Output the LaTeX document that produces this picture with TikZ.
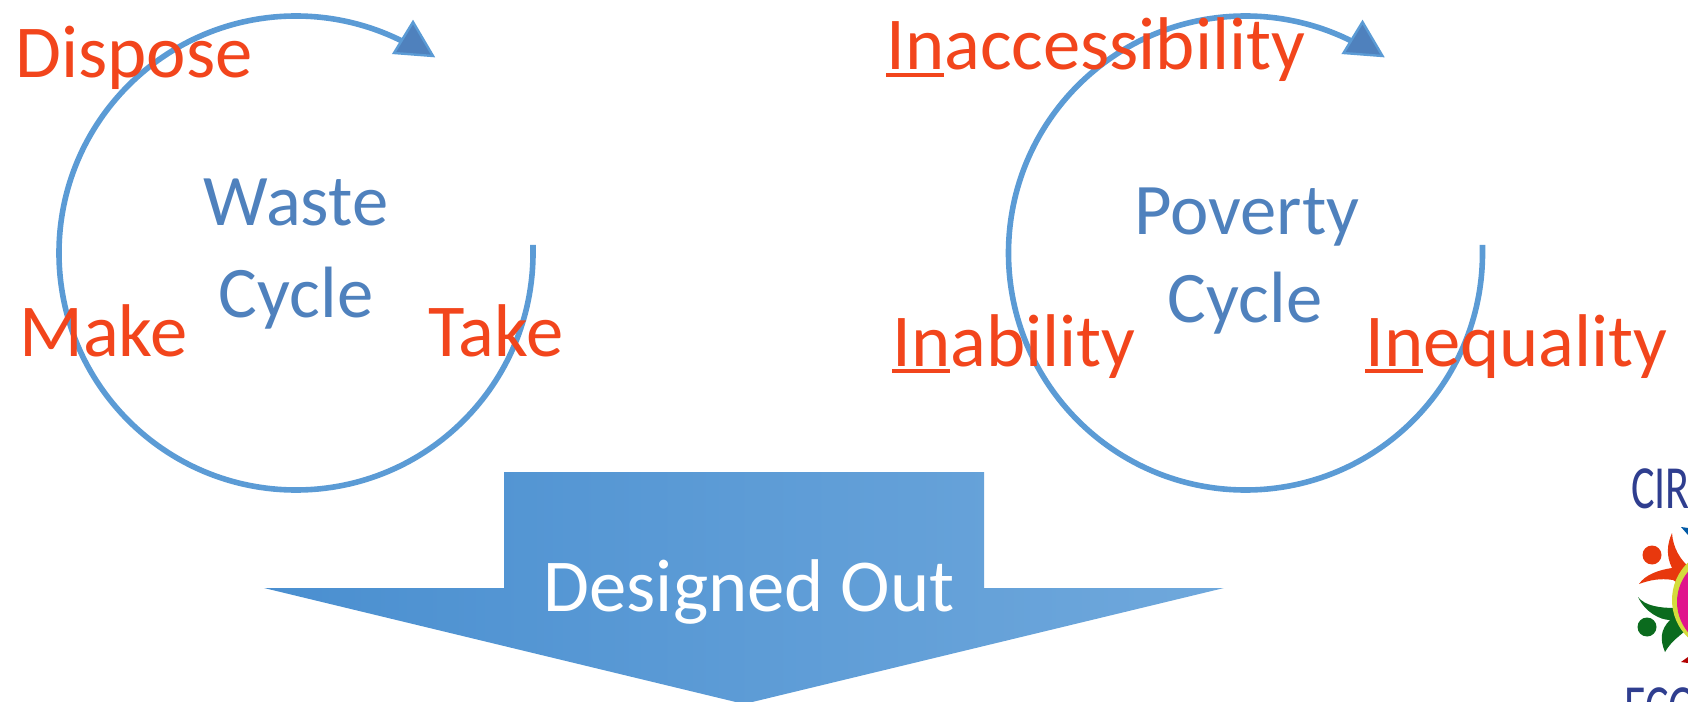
\documentclass[tikz,border=0pt]{standalone}
\usepackage{fontspec}
\setmainfont{Carlito}
\usetikzlibrary{shadings}
\definecolor{ringblue}{HTML}{5B9BD5}
\definecolor{headblue}{HTML}{4F81BD}
\definecolor{redtxt}{HTML}{F2451C}
\definecolor{gradL}{HTML}{4A8FD0}
\definecolor{gradM}{HTML}{5296D8}
\definecolor{gradR}{HTML}{6FA8DC}
\definecolor{logoblue}{HTML}{2F3E8F}
\definecolor{logored}{HTML}{E8380D}
\definecolor{logogreen}{HTML}{0B6B1E}
\definecolor{logoyellow}{HTML}{D4DC3C}
\definecolor{logomag}{HTML}{E0148C}
\newcommand{\inul}[1]{\leavevmode\setbox0=\hbox{#1}\rlap{\rule[-0.09em]{\wd0}{0.05em}}#1}
\tikzset{
  ring/.style={draw=ringblue,line width=4.2pt},
  head/.style={fill=headblue,draw=ringblue,line width=1.8pt,line join=miter},
  redlabel/.style={text=redtxt,anchor=base west,inner sep=0pt,font=\fontsize{56}{60}\selectfont},
  bluelabel/.style={text=headblue,anchor=base,inner sep=0pt,font=\fontsize{54.5}{60}\selectfont},
  logotext/.style={text=logoblue,anchor=base west,inner sep=0pt,font=\fontsize{46}{48}\selectfont,xscale=.72},
}
\begin{document}
\begin{tikzpicture}[x=.75pt,y=-.75pt]
\useasboundingbox (0,0) rectangle (1688,702);
\clip (0,0) rectangle (1688,702);
% cycles
\draw[ring] (533,245) -- (533,253) arc[start angle=0,end angle=297,radius=237] coordinate (e1);
\draw[ring] (1482.5,245) -- (1482.5,253) arc[start angle=0,end angle=297,radius=237] coordinate (e2);
\draw[head] (413,22) -- (433,56) -- (394,53) -- cycle;
\draw[head] (1362.5,22) -- (1382.5,56) -- (1343.5,53) -- cycle;
% big arrow
\path[left color=gradL,middle color=gradM,right color=gradR] (504,472) -- (984,472) -- (984,588) -- (1224,588) -- (744,704) -- (264,588) -- (504,588) -- cycle;
% labels
\node[redlabel] (dispose) at (15,78) {Dispose};
\node[redlabel] (make) at (19,356) {Make};
\node[redlabel] (take) at (428,356) {Take};
\node[redlabel] (inacc) at (886,70) {\inul{In}accessibility};
\node[redlabel] (inab) at (892,366) {\inul{In}ability};
\node[redlabel] (ineq) at (1365,366) {\inul{In}equality};
\node[bluelabel] (waste) at (296,226) {Waste};
\node[bluelabel] (cyc1) at (296,317) {Cycle};
\node[bluelabel] (pov) at (1247,235) {Poverty};
\node[bluelabel] (cyc2) at (1245,322) {Cycle};
\node[text=white,anchor=base,inner sep=0pt,font=\fontsize{56}{60}\selectfont] (designed) at (749,611) {Designed Out};
% logo
\node[logotext] (circ) at (1631,508) {CIRCULAR};
\node[logotext] (econ) at (1624,727) {ECONOMY};
\fill[logored] (1652,555) circle (9.5);
\fill[logogreen] (1647,627) circle (9.5);
\fill[logored] (1672,533) .. controls (1673,548) and (1680,560) .. (1692,570) -- (1692,592) -- (1673,580) .. controls (1660,578) and (1650,580) .. (1639,584) .. controls (1645,575) and (1658,570) .. (1672,568) .. controls (1666,556) and (1667,544) .. (1672,533) -- cycle;
\fill[logogreen] (1638,597) .. controls (1645,606) and (1660,608) .. (1675,608) -- (1692,625) .. controls (1680,636) and (1672,640) .. (1665,652) .. controls (1660,640) and (1660,630) .. (1670,620) .. controls (1660,620) and (1645,612) .. (1638,597) -- cycle;
\fill[logoyellow] (1724,600) circle (52);
\fill[logomag] (1724,602) circle (47);
\fill[teal!70!blue] (1681,527) -- (1688,528) -- (1688,535) -- cycle;
\fill[red!70!black] (1681,662) -- (1688,657) -- (1688,663) -- cycle;
\end{tikzpicture}
\end{document}
